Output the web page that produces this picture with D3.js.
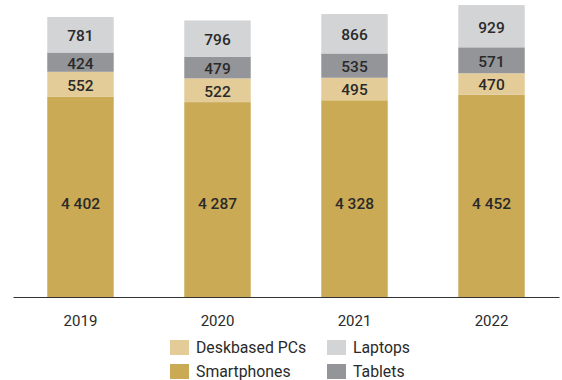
<!DOCTYPE html>
<html>
<head>
<meta charset="utf-8">
<script src="https://cdn.jsdelivr.net/npm/d3@7"></script>
<style>
  html, body { margin: 0; padding: 0; background: #fff; }
  svg { display: block; font-family: Roboto, "Noto Sans", sans-serif; }
</style>
</head>
<body>
<svg id="chart" width="562" height="380"></svg>
<script>
// Device shipments by year, stacked bottom to top
const years = ["2019", "2020", "2021", "2022"];
const smartphones = [4402, 4287, 4328, 4452];
const deskbasedPCs = [552, 522, 495, 470];
const tablets = [424, 479, 535, 571];
const laptops = [781, 796, 866, 929];

const seriesNames = ["Smartphones", "Deskbased PCs", "Tablets", "Laptops"];
const seriesColors = ["#CBAA55", "#E4CC99", "#949599", "#D3D4D6"];
const valuesBySeries = [smartphones, deskbasedPCs, tablets, laptops];

// number format with a space as thousands separator
const fmt = d3.formatLocale({ decimal: ",", thousands: " ", grouping: [3], currency: ["", ""] }).format(",d");

const svg = d3.select("#chart");

const baseY = 297;
const x = d3.scaleBand().domain(years).range([13, 559]).paddingInner(0.515).paddingOuter(0.25);
const y = d3.scaleLinear().domain([0, 6500]).range([baseY, baseY - 6500 * 0.04546]);

const rows = years.map((yr, i) => {
  const r = { year: yr };
  seriesNames.forEach((s, k) => { r[s] = valuesBySeries[k][i]; });
  return r;
});
const stacked = d3.stack().keys(seriesNames)(rows);

const layers = svg.append("g").selectAll("g")
  .data(stacked)
  .join("g")
  .attr("fill", (d, i) => seriesColors[i]);

layers.selectAll("rect")
  .data(d => d)
  .join("rect")
  .attr("x", d => x(d.data.year))
  .attr("width", x.bandwidth())
  .attr("y", d => y(d[1]))
  .attr("height", d => y(d[0]) - y(d[1]));

// value labels: upper segments centred, bottom segment on a common line above the base
const labels = svg.append("g");
stacked.forEach((layer, li) => {
  labels.selectAll(null)
    .data(layer)
    .join("text")
    .attr("x", d => x(d.data.year) + x.bandwidth() / 2)
    .attr("y", d => li === 0 ? y(0) - 94 : (y(d[0]) + y(d[1])) / 2 + 0.8)
    .attr("dy", "0.36em")
    .attr("text-anchor", "middle")
    .attr("font-size", 15.5)
    .attr("font-weight", 500)
    .attr("fill", "#2a2a2a")
    .text(d => fmt(d[1] - d[0]));
});

// baseline and year axis
const axis = svg.append("g")
  .attr("transform", `translate(0,${baseY})`)
  .call(d3.axisBottom(x).tickSize(0).tickPadding(18));
axis.select(".domain").attr("stroke", "#333").attr("stroke-width", 1.2);
axis.selectAll("text")
  .attr("font-family", "Roboto, sans-serif")
  .attr("font-size", 15)
  .attr("fill", "#2a2a2a");

// legend, two columns
const legendItems = [
  { name: "Deskbased PCs", color: seriesColors[1], lx: 170, ly: 340 },
  { name: "Smartphones", color: seriesColors[0], lx: 170, ly: 364 },
  { name: "Laptops", color: seriesColors[3], lx: 327, ly: 340 },
  { name: "Tablets", color: seriesColors[2], lx: 327, ly: 364 }
];
const legend = svg.append("g").selectAll("g")
  .data(legendItems)
  .join("g")
  .attr("transform", d => `translate(${d.lx},${d.ly})`);
legend.append("rect")
  .attr("width", 19).attr("height", 15)
  .attr("fill", d => d.color);
legend.append("text")
  .attr("x", 26).attr("y", 7.5).attr("dy", "0.36em")
  .attr("font-size", 15.8)
  .attr("fill", "#2a2a2a")
  .text(d => d.name);
</script>
</body>
</html>
